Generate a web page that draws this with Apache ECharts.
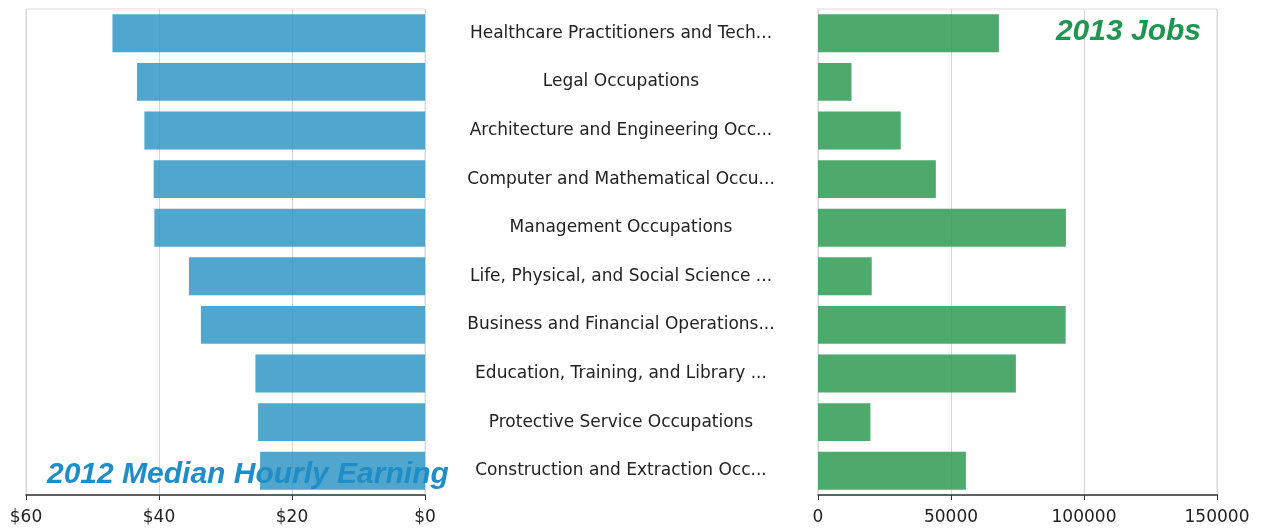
<!DOCTYPE html>
<html>
<head>
<meta charset="utf-8">
<script src="https://cdn.jsdelivr.net/npm/echarts@6/dist/echarts.min.js"></script>
<style>
  html, body { margin: 0; padding: 0; background: #fff; }
  #chart { width: 1263px; height: 531px; }
</style>
</head>
<body>
<div id="chart"></div>
<script>
const categories = [
  'Healthcare Practitioners and Tech...',
  'Legal Occupations',
  'Architecture and Engineering Occ...',
  'Computer and Mathematical Occu...',
  'Management Occupations',
  'Life, Physical, and Social Science ...',
  'Business and Financial Operations...',
  'Education, Training, and Library ...',
  'Protective Service Occupations',
  'Construction and Extraction Occ...'
];
const hourlyEarnings = [47.0, 43.3, 42.2, 40.8, 40.7, 35.5, 33.7, 25.5, 25.1, 24.8];
const jobs2013 = [68000, 12600, 31100, 44300, 93200, 20200, 93100, 74400, 19700, 55600];
const earningTicks = [0, 20, 40, 60];
const jobTicks = [0, 50000, 100000, 150000];

const chart = echarts.init(document.getElementById('chart'));

const tickFont = { fontFamily: 'DejaVu Sans', fontSize: 17, color: '#222' };

const option = {
  animation: false,
  title: [
    {
      text: '2012 Median Hourly Earnings',
      left: 42, top: 455,
      textStyle: {
        fontFamily: 'Liberation Sans', fontSize: 30, fontWeight: 'bold', fontStyle: 'italic',
        color: '#1f8ec8', width: 404, overflow: 'truncate', ellipsis: ''
      }
    },
    {
      text: '2013 Jobs',
      right: 57, top: 12,
      textStyle: {
        fontFamily: 'Liberation Sans', fontSize: 30, fontWeight: 'bold', fontStyle: 'italic',
        color: '#1e9650'
      }
    }
  ],
  grid: [
    { left: 26, right: 838, top: 9, bottom: 36, show: true, borderColor: '#ddd', borderWidth: 1 },
    { left: 818, right: 46, top: 9, bottom: 36, show: true, borderColor: '#ddd', borderWidth: 1 }
  ],
  xAxis: [
    {
      gridIndex: 0, type: 'value', inverse: true, min: 0, max: 60, interval: 20,
      axisLine: { show: true, lineStyle: { color: '#333', width: 1.5 } },
      axisTick: { show: true, length: 5, lineStyle: { color: '#333' } },
      axisLabel: Object.assign({ margin: 14, formatter: v => earningTicks.includes(v) ? '$' + v : '' }, tickFont),
      splitLine: { show: true, lineStyle: { color: '#d5d5d5' } }
    },
    {
      gridIndex: 1, type: 'value', min: 0, max: 150000, interval: 50000,
      axisLine: { show: true, lineStyle: { color: '#333', width: 1.5 } },
      axisTick: { show: true, length: 5, lineStyle: { color: '#333' } },
      axisLabel: Object.assign({ margin: 14, formatter: v => jobTicks.includes(v) ? String(v) : '' }, tickFont),
      splitLine: { show: true, lineStyle: { color: '#d5d5d5' } }
    }
  ],
  yAxis: [
    {
      gridIndex: 0, type: 'category', data: categories, inverse: true,
      axisLine: { show: false }, axisTick: { show: false }, axisLabel: { show: false }
    },
    {
      gridIndex: 1, type: 'category', data: categories, inverse: true,
      axisLine: { show: false }, axisTick: { show: false },
      axisLabel: { align: 'center', margin: 197, fontFamily: 'DejaVu Sans', fontSize: 17, color: '#222' }
    }
  ],
  series: [
    {
      type: 'bar', xAxisIndex: 0, yAxisIndex: 0, data: hourlyEarnings,
      barCategoryGap: '22%',
      itemStyle: { color: '#3197c3', opacity: 0.85 }
    },
    {
      type: 'bar', xAxisIndex: 1, yAxisIndex: 1, data: jobs2013,
      barCategoryGap: '22%',
      itemStyle: { color: '#2e9b52', opacity: 0.85 }
    }
  ]
};

chart.setOption(option);
</script>
</body>
</html>
